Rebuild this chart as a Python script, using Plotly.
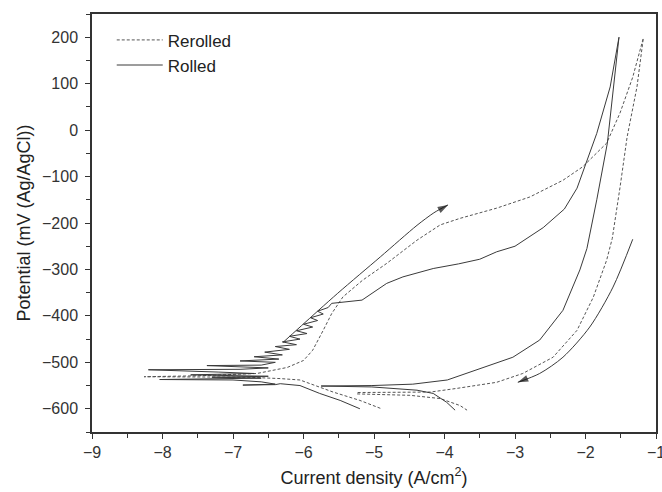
import plotly.graph_objects as go

# ---------------- data (log current density, potential mV) ----------------
rolled_x = [-5.20, -5.48, -5.77, -6.05, -6.33, -6.40, -6.86, -6.40, -6.60, -7.00, -8.04, -7.00,
            -6.60, -7.30, -6.50, -7.60, -6.70, -7.20, -8.20, -6.90, -6.50, -7.37, -6.60, -6.40,
            -6.90, -6.35, -6.70, -6.30, -6.55, -6.20, -6.40, -6.10, -6.30, -6.05, -6.20, -5.95,
            -6.10, -5.87, -6.00, -5.80, -5.90, -5.72, -5.80, -5.65, -5.60, -5.17, -5.01, -4.82,
            -4.59, -4.35, -4.16, -3.80, -3.50, -3.26, -3.00, -2.60, -2.30, -2.12, -1.84, -1.65,
            -1.525, -1.69, -1.84, -1.98, -2.08, -2.32, -2.65, -3.03, -3.50, -3.96, -4.45, -5.03,
            -5.75, -5.03, -4.39, -4.16, -3.97, -3.85]
rolled_y = [-600, -582, -567, -550, -546, -548, -549, -547, -542, -538, -537, -536,
            -534, -532, -530, -527, -524, -521, -516, -515, -512, -507, -506, -500,
            -497, -493, -488, -484, -478, -472, -466, -462, -456, -450, -444, -438,
            -432, -424, -418, -410, -404, -396, -390, -382, -373, -366, -349, -330,
            -316, -306, -298, -288, -278, -262, -250, -210, -170, -125, -7, 93,
            200, -28, -150, -255, -301, -388, -452, -489, -513, -538, -547, -550,
            -551, -553, -560, -567, -586, -603]

rerolled_x = [-4.91, -5.20, -5.58, -6.05, -6.33, -6.80, -8.26, -7.50, -6.66, -6.23, -6.00,
              -5.87, -5.72, -5.60, -5.44, -5.16, -4.82, -4.39, -4.06, -3.78, -3.26, -2.79,
              -2.32, -2.04, -1.70, -1.51, -1.33, -1.18,
              -1.27, -1.41, -1.51, -1.62, -1.70, -1.89, -2.12, -2.46, -2.89, -3.26, -3.82,
              -4.20, -5.24, -5.24, -4.49, -4.06, -3.78, -3.68]
rerolled_y = [-599, -582, -564, -538, -535, -532, -531, -529, -524, -511, -496,
              -474, -431, -395, -359, -323, -287, -237, -204, -190, -168, -144,
              -108, -79, -28, 37, 114, 198,
              93, -15, -123, -233, -280, -360, -431, -489, -524, -543, -556,
              -564, -565, -568, -571, -578, -593, -603]

# scan-direction arrows
fwd_arrow_x = [-6.29, -5.52, -4.91, -4.39, -4.15, -3.95]
fwd_arrow_y = [-457, -352, -273, -205, -178, -161]
rev_arrow_x = [-1.33, -1.61, -1.94, -2.32, -2.65, -2.96]
rev_arrow_y = [-235, -338, -424, -489, -524, -543]

x_ticks = [-9, -8, -7, -6, -5, -4, -3, -2, -1]
y_ticks = [-600, -500, -400, -300, -200, -100, 0, 100, 200]

LINE = "#3a3a3a"
FONT = "Liberation Sans, Arial, sans-serif"

fig = go.Figure()
fig.add_trace(go.Scatter(x=rerolled_x, y=rerolled_y, mode="lines", name="Rerolled",
                         line=dict(color="#555", width=1, dash="3px,2px")))
fig.add_trace(go.Scatter(x=rolled_x, y=rolled_y, mode="lines", name="Rolled",
                         line=dict(color=LINE, width=1)))
for ax, ay in [(fwd_arrow_x, fwd_arrow_y), (rev_arrow_x, rev_arrow_y)]:
    sizes = [0] * (len(ax) - 1) + [11]
    fig.add_trace(go.Scatter(x=ax, y=ay, mode="lines+markers", showlegend=False,
                             line=dict(color=LINE, width=1, shape="spline", smoothing=0.8),
                             marker=dict(symbol="arrow", size=sizes, angleref="previous",
                                         color="#111", line=dict(width=0))))

axis_common = dict(showline=True, linecolor="#333", linewidth=1.5, mirror=True,
                   ticks="outside", ticklen=5, tickwidth=1.2, tickcolor="#333",
                   showgrid=False, zeroline=False, ticklabeloverflow="allow",
                   automargin=False,
                   tickfont=dict(family=FONT, size=16, color="#333"))

fig.update_xaxes(range=[-9, -1], tickvals=x_ticks, ticklabelstandoff=0,
                 minor=dict(dtick=0.5, ticks="outside", ticklen=4, tickcolor="#333", showgrid=False),
                 title=dict(text="Current density (A/cm<sup>2</sup>)", standoff=11,
                            font=dict(family=FONT, size=18, color="#222")),
                 **axis_common)
fig.update_yaxes(range=[-650, 250], tickvals=y_ticks, ticklabelstandoff=4,
                 minor=dict(dtick=50, ticks="outside", ticklen=4, tickcolor="#333", showgrid=False),
                 title=dict(text="Potential (mV (Ag/AgCl))", standoff=7,
                            font=dict(family=FONT, size=18, color="#222")),
                 **axis_common)

fig.update_layout(width=662, height=492, margin=dict(l=92, r=6, t=14, b=60),
                  plot_bgcolor="white", paper_bgcolor="white",
                  font=dict(family=FONT, color="#222"),
                  legend=dict(x=0.035, y=0.98, xanchor="left", yanchor="top",
                              bgcolor="rgba(0,0,0,0)", font=dict(family=FONT, size=17, color="#222"),
                              tracegroupgap=0, itemwidth=46))

fig.write_html("out.html")
